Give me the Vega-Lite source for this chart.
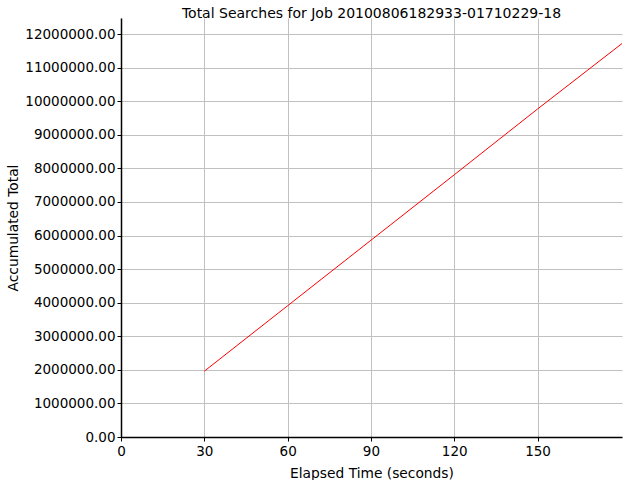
{
  "$schema": "https://vega.github.io/schema/vega-lite/v6.json",
  "autosize": "none",
  "width": 501,
  "height": 419,
  "padding": {"left": 121, "top": 18, "right": 18, "bottom": 43},
  "background": "white",
  "title": {
    "text": "Total Searches for Job 20100806182933-01710229-18",
    "font": "DejaVu Sans",
    "fontSize": 14,
    "fontWeight": "normal",
    "color": "black",
    "offset": -3
  },
  "config": {
    "view": {"stroke": null},
    "axis": {
      "labelFont": "DejaVu Sans",
      "labelFontSize": 13.5,
      "labelColor": "black",
      "labelFlush": false,
      "titleFont": "DejaVu Sans",
      "titleFontSize": 13.8,
      "titleFontWeight": "normal",
      "titleColor": "black",
      "domainColor": "black",
      "domainWidth": 1.5,
      "tickColor": "black",
      "tickSize": 4,
      "gridColor": "#c0c0c0",
      "gridWidth": 1
    }
  },
  "data": {
    "values": [
      {"elapsed": 30, "total": 1960000},
      {"elapsed": 60, "total": 3910000},
      {"elapsed": 90, "total": 5860000},
      {"elapsed": 120, "total": 7810000},
      {"elapsed": 150, "total": 9770000},
      {"elapsed": 180.4, "total": 11720000}
    ]
  },
  "mark": {"type": "line", "color": "#ff0000", "strokeWidth": 1},
  "encoding": {
    "x": {
      "field": "elapsed",
      "type": "quantitative",
      "title": "Elapsed Time (seconds)",
      "scale": {"domain": [0, 180.4], "nice": false, "zero": true},
      "axis": {"values": [0, 30, 60, 90, 120, 150], "labelPadding": 3, "titlePadding": 9}
    },
    "y": {
      "field": "total",
      "type": "quantitative",
      "title": "Accumulated Total",
      "scale": {"domain": [0, 12480000], "nice": false},
      "axis": {
        "values": [0, 1000000, 2000000, 3000000, 4000000, 5000000, 6000000, 7000000, 8000000, 9000000, 10000000, 11000000, 12000000],
        "format": ".2f",
        "labelPadding": 2,
        "titlePadding": 4
      }
    }
  }
}
